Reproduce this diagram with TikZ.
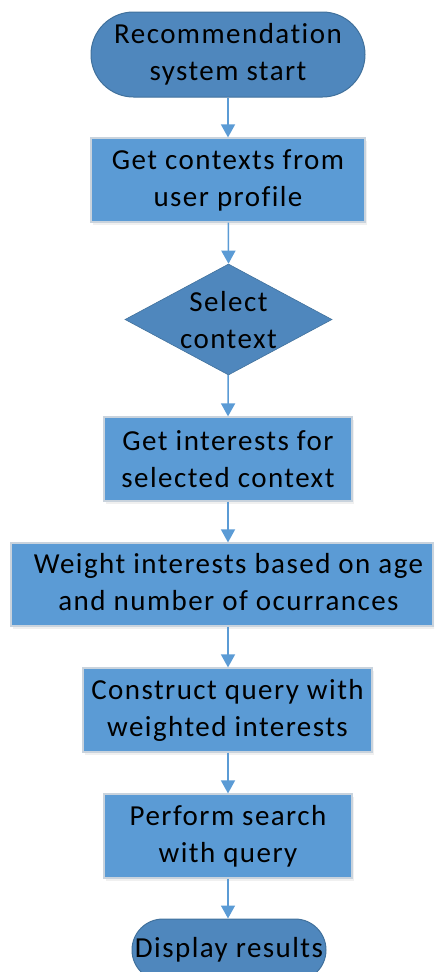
\documentclass[tikz,border=0pt]{standalone}
\usepackage{fontspec}
\setmainfont[Ligatures=NoCommon, LetterSpace=5]{Carlito}
\usetikzlibrary{arrows.meta,shapes.geometric,shadows}

\definecolor{termfill}{HTML}{4F87BD}
\definecolor{termline}{HTML}{41719C}
\definecolor{procfill}{HTML}{5B9BD5}
\definecolor{procline}{HTML}{C9D3DD}
\definecolor{flowline}{HTML}{5B9BD5}

\tikzset{
  chart/.style={font=\fontsize{29}{37}\selectfont, align=center, text=black, inner sep=0pt},
  terminal/.style={chart, draw=termline, fill=termfill, line width=1pt},
  process/.style={chart, draw=procline, fill=procfill, line width=1.2pt,
    drop shadow={opacity=0.12, shadow xshift=1.5pt, shadow yshift=-2.5pt}},
  decision/.style={chart, shape=diamond, draw=termline, fill=termfill, line width=0.6pt},
  flow/.style={draw=flowline, line width=1.5pt, -{Triangle[width=14pt,length=13pt]}}
}

\begin{document}
\begin{tikzpicture}[x=1pt,y=-1pt]
  \useasboundingbox (0,0) rectangle (434,972);
  \clip (0,0) rectangle (434,972);

  % start terminator
  \node[terminal, minimum width=274pt, minimum height=85pt, rounded corners=42.5pt]
    (start) at (228,54.5) {Recommendation\\system start};

  % processing steps
  \node[process, minimum width=274pt, minimum height=84pt]
    (contexts) at (228,180) {Get contexts from\\user profile};

  % decision: the label is smashed so the diamond keeps its given size
  \node[decision, minimum width=207pt, minimum height=111pt]
    (select) at (228.5,319.5) {\smash{\makebox[0pt]{\raisebox{-9pt}{\begin{tabular}{@{}c@{}}Select\\context\end{tabular}}}}};

  \node[process, minimum width=248pt, minimum height=84pt]
    (interests) at (228,459) {Get interests for\\selected context};

  % wide step: its text sits on the flow axis, a little right of the box centre
  \node[process, minimum width=422pt, minimum height=83pt]
    (weight) at (222,584.5) {\hspace*{13pt}\begin{tabular}{@{}c@{}}Weight interests based on age\\and number of ocurrances\end{tabular}};

  \node[process, minimum width=289pt, minimum height=84pt]
    (query) at (227.5,710) {Construct query with\\weighted interests};

  \node[process, minimum width=248pt, minimum height=84pt]
    (search) at (228,836) {Perform search\\with query};

  % end terminator
  \node[terminal, minimum width=194pt, minimum height=62pt, rounded corners=31pt]
    (display) at (229,950) {Display results};

  % connectors
  \draw[flow] (start.south -| contexts.north) -- (contexts.north);
  \draw[flow] (contexts) -- (select.north);
  \draw[flow] (select) -- (interests.north);
  \draw[flow] (interests.south) -- (interests.south |- weight.north);
  \draw[flow] (interests.south |- weight.south) -- (interests.south |- query.north);
  \draw[flow] (interests.south |- query.south) -- (search.north);
  \draw[flow] (search.south) -- (search.south |- display.north);
\end{tikzpicture}
\end{document}
